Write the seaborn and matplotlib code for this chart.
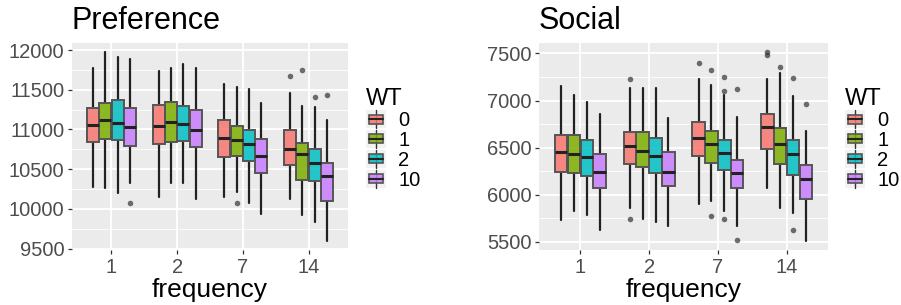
import numpy as np
import matplotlib.pyplot as plt
import seaborn as sns
from matplotlib.lines import Line2D
from matplotlib.patches import Rectangle
from matplotlib.legend_handler import HandlerBase
from matplotlib.ticker import MultipleLocator
from matplotlib.colors import to_rgba

# Categories
frequency = ['1', '2', '7', '14']
wt_levels = ['0', '1', '2', '10']
wt_colors = ['#F8766D', '#7CAE00', '#00BFC4', '#C77CFF']

# Box summaries, [frequency][WT]
pref_lo = [[10281, 10260, 10205, 10332],
           [10155, 10332, 10332, 10121],
           [10150, 10218, 10079, 9939],
           [10121, 9918, 9838, 9601]]
pref_q1 = [[10843, 10877, 10872, 10796],
           [10822, 10843, 10860, 10780],
           [10657, 10666, 10602, 10446],
           [10556, 10370, 10349, 10104]]
pref_med = [[11058, 11113, 11084, 11037],
            [11041, 11088, 11071, 10987],
            [10894, 10872, 10818, 10670],
            [10758, 10691, 10581, 10412]]
pref_q3 = [[11274, 11337, 11371, 11269],
           [11307, 11345, 11299, 11240],
           [11117, 11041, 10991, 10877],
           [10987, 10830, 10754, 10577]]
pref_hi = [[11780, 11970, 11907, 11890],
           [11730, 11780, 11823, 11768],
           [11569, 11535, 11514, 11337],
           [11455, 11299, 11282, 11113]]
pref_out = [[[], [], [], [10070]],
            [[], [], [], []],
            [[], [10079], [], []],
            [[11671], [11747], [11409], [11438]]]

soc_lo = [[5734, 5826, 5787, 5624],
          [5862, 5745, 5713, 5674],
          [5904, 5933, 5833, 5674],
          [6075, 5855, 5809, 5514]]
soc_q1 = [[6245, 6230, 6202, 6074],
          [6323, 6294, 6234, 6096],
          [6408, 6340, 6266, 6067],
          [6482, 6323, 6209, 5955]]
soc_med = [[6454, 6433, 6404, 6241],
           [6518, 6461, 6408, 6241],
           [6599, 6539, 6443, 6227],
           [6723, 6535, 6429, 6170]]
soc_q3 = [[6638, 6631, 6582, 6429],
          [6670, 6670, 6599, 6457],
          [6770, 6681, 6585, 6369],
          [6855, 6713, 6578, 6316]]
soc_hi = [[7152, 7060, 6986, 6858],
          [7138, 7131, 7138, 6812],
          [7227, 7163, 7060, 6823],
          [7227, 7294, 7050, 6677]]
soc_out = [[[], [], [], []],
           [[7230, 5745], [], [], []],
           [[7394], [7323, 5770], [7255, 7106, 5741], [7128, 5525]],
           [[7511, 7486], [7358], [7241, 5628], [6965]]]

sns.set_theme(style='darkgrid', rc={'text.color': 'black', 'axes.labelcolor': 'black'})
plt.rcParams['font.family'] = ['Liberation Sans', 'DejaVu Sans']

FILL_ALPHA = 0.85
EDGE = '#555555'
DODGE = 0.1875   # dodge step
BOXW = 0.18


class BoxKey(HandlerBase):
    # ggplot-like boxplot legend key
    def create_artists(self, legend, orig, xd, yd, w, h, fontsize, trans):
        bg = Rectangle((-xd, -yd), w, h, facecolor='#F2F2F2', edgecolor='none', transform=trans)
        cx = -xd + w / 2
        vline = Line2D([cx, cx], [-yd, -yd + h], color='#333333', lw=1.0, transform=trans)
        box = Rectangle((-xd + w * 0.15, -yd + h * 0.25), w * 0.7, h * 0.5,
                        facecolor=orig.get_facecolor(), edgecolor=EDGE, lw=1.2, transform=trans)
        med = Line2D([-xd + w * 0.15, -xd + w * 0.85], [-yd + h / 2] * 2,
                     color='#222222', lw=1.5, transform=trans)
        return [bg, vline, box, med]


def draw_panel(ax, title, lo, q1, med, q3, hi, out, major):
    stats, pos, cols = [], [], []
    for i in range(len(frequency)):
        for j in range(len(wt_levels)):
            stats.append({'whislo': lo[i][j], 'q1': q1[i][j], 'med': med[i][j],
                          'q3': q3[i][j], 'whishi': hi[i][j], 'fliers': out[i][j]})
            pos.append(i + (j - 1.5) * DODGE)
            cols.append(wt_colors[j])
    bp = ax.bxp(stats, positions=pos, widths=BOXW, patch_artist=True, showcaps=False,
                boxprops=dict(edgecolor=EDGE, linewidth=1.4),
                whiskerprops=dict(color='#222222', linewidth=1.6),
                medianprops=dict(color='#222222', linewidth=2.2),
                flierprops=dict(marker='o', markersize=4, markerfacecolor='#333333',
                                markeredgecolor='none', alpha=0.7),
                manage_ticks=False)
    for patch, c in zip(bp['boxes'], cols):
        r, g, b, _ = to_rgba(c)
        patch.set_facecolor((r, g, b, FILL_ALPHA))
        patch.set_zorder(3)
    for m in bp['medians']:
        m.set_zorder(4)

    allv = [v for row in lo for v in row] + [v for row in hi for v in row] + \
           [v for row in out for cell in row for v in cell]
    vmin, vmax = min(allv), max(allv)
    pad = 0.05 * (vmax - vmin)
    ax.set_ylim(vmin - pad, vmax + pad)
    ax.set_xlim(-0.6, len(frequency) - 0.4)
    ax.set_xticks(range(len(frequency)))
    ax.set_xticklabels(frequency)
    ax.yaxis.set_major_locator(MultipleLocator(major))
    ax.yaxis.set_minor_locator(MultipleLocator(major / 2))
    ax.set_facecolor('#EBEBEB')
    ax.grid(which='major', color='white', linewidth=1.3)
    ax.grid(which='minor', axis='y', color='white', linewidth=0.6)
    ax.tick_params(axis='both', which='major', labelsize=14.5, labelcolor='#4D4D4D',
                   length=3, width=0.9, color='#333333', pad=2.5, left=True, bottom=True)
    ax.tick_params(axis='both', which='minor', length=0)
    for s in ax.spines.values():
        s.set_visible(False)
    ax.set_xlabel('frequency', fontsize=19, labelpad=1, color='black')
    ax.set_ylabel('')
    ax.set_title(title, loc='left', fontsize=22, pad=10, color='black')


fig = plt.figure(figsize=(9.01, 3.05), dpi=100)
ax1 = fig.add_axes([72 / 901, 1 - 250 / 305, 276 / 901, 207 / 305])
ax2 = fig.add_axes([539 / 901, 1 - 250 / 305, 289 / 901, 207 / 305])

draw_panel(ax1, 'Preference', pref_lo, pref_q1, pref_med, pref_q3, pref_hi, pref_out, 500)
draw_panel(ax2, 'Social', soc_lo, soc_q1, soc_med, soc_q3, soc_hi, soc_out, 500)

handles = [Rectangle((0, 0), 1, 1, facecolor=c, alpha=FILL_ALPHA) for c in wt_colors]
for x0 in [366 / 901, 845 / 901]:
    leg = fig.legend(handles, wt_levels, title='WT', loc='upper left',
                     bbox_to_anchor=(x0, 1 - 88 / 305), bbox_transform=fig.transFigure,
                     frameon=False, fontsize=14.5, title_fontsize=17, alignment='left',
                     handler_map={Rectangle: BoxKey()}, handlelength=1.0, handleheight=1.0,
                     labelspacing=0.0, handletextpad=0.6, borderpad=0, borderaxespad=0)
    leg.get_title().set_color('black')
    for t in leg.get_texts():
        t.set_color('black')

fig.savefig('out.png', dpi=100)
